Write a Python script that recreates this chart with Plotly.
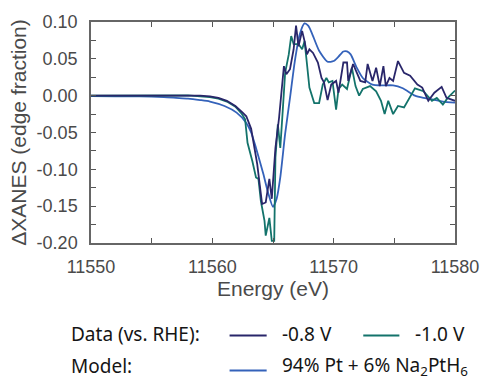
import plotly.graph_objects as go

# ---- data ----
model_E = [11550, 11552, 11554, 11556, 11557, 11558, 11559, 11559.8, 11561, 11562, 11562.8, 11563.2,
           11563.6, 11564.2, 11564.6, 11565.0, 11565.3, 11565.6, 11566.0, 11566.4, 11566.8, 11567.2,
           11567.6, 11567.9, 11568.2, 11568.8, 11569.5, 11570.0, 11570.4, 11570.8, 11571.1, 11571.4,
           11571.9, 11572.4, 11573.2, 11574.0, 11574.9, 11575.7, 11576.7, 11577.4, 11578.1, 11579.0, 11580]
model_v = [-0.0005, -0.0008, -0.001, -0.002, -0.003, -0.004, -0.006, -0.008, -0.014, -0.023, -0.037, -0.050,
           -0.071, -0.106, -0.132, -0.151, -0.140, -0.111, -0.052, -0.003, 0.047, 0.083,
           0.098, 0.095, 0.085, 0.061, 0.046, 0.047, 0.053, 0.060, 0.060, 0.056,
           0.038, 0.024, 0.015, 0.014, 0.014, 0.010, 0.000, -0.003, -0.005, -0.008, -0.0095]

d08_E = [11550, 11553, 11556, 11558, 11559, 11559.8, 11560.5, 11561.2, 11561.9, 11562.5, 11562.8, 11563.2,
         11563.5, 11563.7, 11563.9, 11564.1, 11564.4, 11564.55, 11564.7, 11564.9, 11565.2, 11565.5,
         11565.7, 11565.9, 11566.1, 11566.4, 11566.7, 11566.9, 11567.1, 11567.4, 11567.6, 11567.8,
         11568.0, 11568.3, 11568.7, 11569.0, 11569.2, 11569.5, 11569.8, 11570.2, 11570.4, 11570.8,
         11571.1, 11571.2, 11571.6, 11572.2, 11572.6, 11572.8, 11573.2, 11573.5, 11573.8, 11574.1,
         11574.3, 11574.6, 11574.9, 11575.3, 11575.8, 11576.3, 11576.9, 11577.3, 11577.8, 11578.3,
         11578.9, 11579.3, 11580]
d08_v = [0.0, 0.0, 0.0005, 0.001, 0.0, -0.001, -0.003, -0.007, -0.014, -0.023, -0.028, -0.045,
         -0.071, -0.093, -0.120, -0.147, -0.145, -0.125, -0.113, -0.140, -0.071, -0.030,
         0.002, 0.040, 0.029, 0.036, 0.063, 0.095, 0.067, 0.088, 0.074, 0.056,
         0.063, 0.058, 0.045, 0.024, 0.018, -0.006, 0.015, 0.020, 0.004, 0.045,
         0.045, 0.020, 0.043, 0.020, 0.018, 0.043, 0.020, 0.038, 0.013, 0.040,
         0.013, 0.024, 0.020, 0.047, 0.031, 0.027, 0.015, 0.011, -0.007, 0.004,
         0.012, -0.003, -0.007]

d10_E = [11550, 11553, 11556, 11558, 11559, 11559.8, 11560.5, 11561.2, 11561.9, 11562.4, 11562.7, 11562.9,
         11563.3, 11563.6, 11563.8, 11564.0, 11564.3, 11564.4, 11564.7, 11564.9, 11565.1, 11565.2,
         11565.4, 11565.6, 11565.8, 11566.0, 11566.3, 11566.5, 11566.7, 11567.1, 11567.4, 11567.6,
         11567.8, 11568.0, 11568.4, 11568.8, 11569.1, 11569.4, 11569.6, 11569.9, 11570.2, 11570.4,
         11570.7, 11571.1, 11571.5, 11571.8, 11572.1, 11572.4, 11573.0, 11573.5, 11573.9, 11574.2,
         11574.5, 11574.9, 11575.3, 11575.8, 11576.7, 11577.4, 11578.1, 11578.5, 11579.0, 11579.4, 11580]
d10_v = [0.0, 0.0, 0.0, 0.0005, -0.001, -0.002, -0.004, -0.008, -0.015, -0.024, -0.032, -0.064,
         -0.089, -0.111, -0.113, -0.143, -0.170, -0.190, -0.166, -0.197, -0.197, -0.084,
         -0.039, -0.071, -0.021, 0.031, 0.056, 0.081, 0.070, 0.070, 0.063, 0.074,
         0.043, 0.011, -0.010, -0.010, 0.015, 0.024, 0.018, 0.020, -0.019, 0.009,
         0.015, 0.009, 0.038, 0.013, 0.000, 0.009, 0.013, 0.006, -0.007, -0.025,
         -0.007, -0.025, -0.014, -0.016, 0.010, 0.006, -0.007, -0.003, -0.012, -0.003, 0.007]

x_tickvals = [11550, 11555, 11560, 11565, 11570, 11575, 11580]
x_ticktext = ["11550", "", "11560", "", "11570", "", "11580"]
y_tickvals = [-0.20, -0.175, -0.15, -0.125, -0.10, -0.075, -0.05, -0.025, 0.0, 0.025, 0.05, 0.075, 0.10]
y_ticktext = ["-0.20", "", "-0.15", "", "-0.10", "", "-0.05", "", "0.00", "", "0.05", "", "0.10"]

legend_group_labels = ["Data (vs. RHE):", "Model:"]
legend_item_labels = ["-0.8 V", "-1.0 V", "94% Pt + 6% Na<sub>2</sub>PtH<sub>6</sub>"]

C_08 = "#29266a"
C_10 = "#13736b"
C_MODEL = "#3462ba"

W, H = 491, 379
ML, MR, MT, MB = 91, 27, 21, 136
PW, PH = W - ML - MR, H - MT - MB

fig = go.Figure()
fig.add_trace(go.Scatter(x=model_E, y=model_v, mode="lines",
                         line=dict(color=C_MODEL, width=1.8, shape="spline", smoothing=0.6), showlegend=False))
fig.add_trace(go.Scatter(x=d10_E, y=d10_v, mode="lines", line=dict(color=C_10, width=1.8), showlegend=False))
fig.add_trace(go.Scatter(x=d08_E, y=d08_v, mode="lines", line=dict(color=C_08, width=1.8), showlegend=False))

tick_font = dict(family="Liberation Sans, Arial, sans-serif", size=18, color="#4a4a4a")
title_font = dict(family="Liberation Sans, Arial, sans-serif", size=21, color="#4a4a4a")
fig.update_layout(
    width=W, height=H,
    margin=dict(l=ML, r=MR, t=MT, b=MB),
    paper_bgcolor="white", plot_bgcolor="white",
    xaxis=dict(range=[11550, 11580], tickvals=x_tickvals, ticktext=x_ticktext,
               ticks="inside", ticklen=5, tickwidth=1.2, tickcolor="#555",
               showline=True, linecolor="#666", linewidth=1.5, mirror="ticks",
               showgrid=False, zeroline=False, tickfont=tick_font, ticklabelstandoff=7,
               title=dict(text="Energy (eV)", font=title_font, standoff=4)),
    yaxis=dict(range=[-0.20, 0.10], tickvals=y_tickvals, ticktext=y_ticktext,
               ticks="inside", ticklen=5, tickwidth=1.2, tickcolor="#555",
               showline=True, linecolor="#666", linewidth=1.5, mirror="ticks",
               showgrid=False, zeroline=False, tickfont=tick_font, ticklabelstandoff=8,
               title=dict(text="ΔXANES (edge fraction)", font=title_font, standoff=4)),
)

leg_font = dict(family="Noto Sans, sans-serif", size=19, color="#151515")


def px_x(p):
    return (p - ML) / PW


def px_y(p):
    return (H - MB - p) / PH


legend_rows = [
    (legend_group_labels[0], 334, 336, [(233, 271, C_08, legend_item_labels[0]),
                                        (370, 407, C_10, legend_item_labels[1])]),
    (legend_group_labels[1], 367, 371, [(233, 271, C_MODEL, legend_item_labels[2])]),
]
for label, ytext, yline, items in legend_rows:
    fig.add_annotation(x=px_x(68), y=px_y(ytext), xref="paper", yref="paper", text=label, showarrow=False,
                       xanchor="left", yanchor="middle", font=leg_font)
    for x0, x1, col, txt in items:
        fig.add_shape(type="line", xref="paper", yref="paper", x0=px_x(x0), x1=px_x(x1),
                      y0=px_y(yline), y1=px_y(yline), line=dict(color=col, width=2))
        fig.add_annotation(x=px_x(x1 + 14), y=px_y(ytext), xref="paper", yref="paper", text=txt,
                           showarrow=False, xanchor="left", yanchor="middle", font=leg_font)

fig.write_html("out.html")
